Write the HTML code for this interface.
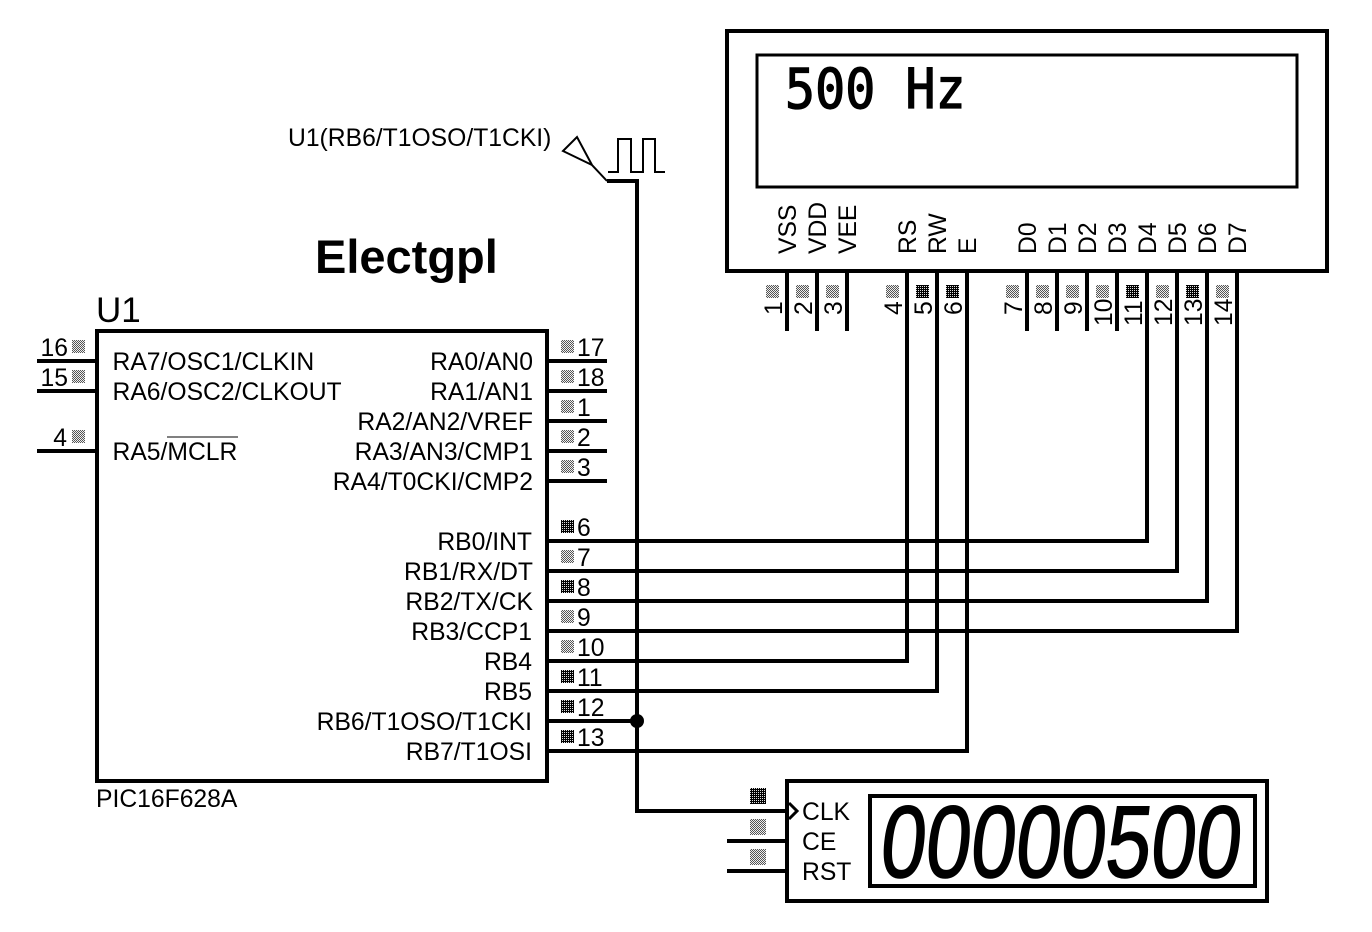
<!DOCTYPE html>
<html>
<head>
<meta charset="utf-8">
<title>Electgpl PIC16F628A frequency counter</title>
<style>
html,body{margin:0;padding:0;background:#fff;width:1372px;height:932px;overflow:hidden}
svg{display:block}
text{font-family:"Liberation Sans",sans-serif;font-size:24.7px;fill:#000}
.r{text-anchor:end}
</style>
</head>
<body>
<svg width="1372" height="932" viewBox="0 0 1372 932" xmlns="http://www.w3.org/2000/svg">
<defs>
<pattern id="lt" width="2" height="2" patternUnits="userSpaceOnUse" shape-rendering="crispEdges">
<rect width="2" height="2" fill="#eee"/><rect width="1" height="1" fill="#555"/><rect x="1" y="1" width="1" height="1" fill="#555"/>
</pattern>
<pattern id="dk" width="2" height="2" patternUnits="userSpaceOnUse" shape-rendering="crispEdges">
<rect width="2" height="2" fill="#000"/><rect width="1" height="1" fill="#ddd"/>
</pattern>
</defs>

<g fill="none" stroke="#000" stroke-width="4" shape-rendering="crispEdges">
<rect x="97" y="331" width="450" height="450"/>
<rect x="727" y="31" width="600" height="240"/>
<rect x="757" y="55" width="540" height="132" stroke-width="3"/>
<rect x="787" y="781" width="480" height="120"/>
<rect x="870" y="796" width="385" height="90"/>
<path d="M37 361H97M37 391H97M37 451H97"/>
<path d="M547 361H607M547 391H607M547 421H607M547 451H607M547 481H607"/>
<path d="M787 271V331M817 271V331M847 271V331M1027 271V331M1057 271V331M1087 271V331M1117 271V331"/>
<path d="M547 541H1147V271M547 571H1177V271M547 601H1207V271M547 631H1237V271"/>
<path d="M547 661H907V271M547 691H937V271M547 751H967V271"/>
<path d="M547 721H637M607 181H637V811H787M727 841H787M727 871H787"/>
</g>
<circle cx="637" cy="721" r="7" fill="#000"/>
<path d="M789 803L797 811L789 819" fill="#fff" stroke="#000" stroke-width="3"/>

<g fill="none" stroke="#000" stroke-width="2">
<path d="M607 181L592 165L577 137L563 151L592 165"/>
<path d="M608 172H618V139H631V172H643V139H655V172H665" shape-rendering="crispEdges"/>
<path d="M167 437H238" stroke-width="1" shape-rendering="crispEdges"/>
</g>

<g fill="url(#lt)" shape-rendering="crispEdges">
<rect x="72" y="340" width="13" height="13"/>
<rect x="72" y="370" width="13" height="13"/>
<rect x="72" y="430" width="13" height="13"/>
<rect x="561" y="340" width="13" height="13"/>
<rect x="561" y="370" width="13" height="13"/>
<rect x="561" y="400" width="13" height="13"/>
<rect x="561" y="430" width="13" height="13"/>
<rect x="561" y="460" width="13" height="13"/>
<rect x="561" y="550" width="13" height="13"/>
<rect x="561" y="610" width="13" height="13"/>
<rect x="561" y="640" width="13" height="13"/>
<rect x="766" y="285" width="13" height="13"/>
<rect x="796" y="285" width="13" height="13"/>
<rect x="826" y="285" width="13" height="13"/>
<rect x="886" y="285" width="13" height="13"/>
<rect x="1006" y="285" width="13" height="13"/>
<rect x="1036" y="285" width="13" height="13"/>
<rect x="1066" y="285" width="13" height="13"/>
<rect x="1096" y="285" width="13" height="13"/>
<rect x="1156" y="285" width="13" height="13"/>
<rect x="1216" y="285" width="13" height="13"/>
<rect x="750" y="819" width="16" height="16"/>
<rect x="750" y="849" width="16" height="16"/>
</g>
<g fill="url(#dk)" shape-rendering="crispEdges">
<rect x="561" y="520" width="13" height="13"/>
<rect x="561" y="580" width="13" height="13"/>
<rect x="561" y="670" width="13" height="13"/>
<rect x="561" y="700" width="13" height="13"/>
<rect x="561" y="730" width="13" height="13"/>
<rect x="916" y="285" width="13" height="13"/>
<rect x="946" y="285" width="13" height="13"/>
<rect x="1126" y="285" width="13" height="13"/>
<rect x="1186" y="285" width="13" height="13"/>
<rect x="750" y="788" width="16" height="16"/>
</g>

<text x="315" y="273" style="font-size:47px;font-weight:bold">Electgpl</text>
<text x="96" y="322" style="font-size:35px">U1</text>
<text x="288" y="146">U1(RB6/T1OSO/T1CKI)</text>
<text x="96" y="807">PIC16F628A</text>

<text x="112.5" y="370">RA7/OSC1/CLKIN</text>
<text x="112.5" y="400">RA6/OSC2/CLKOUT</text>
<text x="112.5" y="460">RA5/MCLR</text>

<text class="r" x="533" y="370">RA0/AN0</text>
<text class="r" x="533" y="400">RA1/AN1</text>
<text class="r" x="533" y="430">RA2/AN2/VREF</text>
<text class="r" x="533" y="460">RA3/AN3/CMP1</text>
<text class="r" x="533" y="490">RA4/T0CKI/CMP2</text>
<text class="r" x="532" y="550">RB0/INT</text>
<text class="r" x="533" y="580">RB1/RX/DT</text>
<text class="r" x="533" y="610">RB2/TX/CK</text>
<text class="r" x="532" y="640">RB3/CCP1</text>
<text class="r" x="532" y="670">RB4</text>
<text class="r" x="532" y="700">RB5</text>
<text class="r" x="532" y="730">RB6/T1OSO/T1CKI</text>
<text class="r" x="532" y="760">RB7/T1OSI</text>
<text class="r" x="68" y="356">16</text>
<text class="r" x="68" y="386">15</text>
<text class="r" x="67" y="446">4</text>

<text x="577" y="356">17</text>
<text x="577" y="386">18</text>
<text x="577" y="416">1</text>
<text x="577" y="446">2</text>
<text x="577" y="476">3</text>
<text x="577" y="536">6</text>
<text x="577" y="566">7</text>
<text x="577" y="596">8</text>
<text x="577" y="626">9</text>
<text x="577" y="656">10</text>
<text x="577" y="686">11</text>
<text x="577" y="716">12</text>
<text x="577" y="746">13</text>

<text transform="translate(796 254) rotate(-90)">VSS</text>
<text transform="translate(826 254) rotate(-90)">VDD</text>
<text transform="translate(856 254) rotate(-90)">VEE</text>
<text transform="translate(916 254) rotate(-90)">RS</text>
<text transform="translate(946 254) rotate(-90)">RW</text>
<text transform="translate(976 254) rotate(-90)">E</text>
<text transform="translate(1036 254) rotate(-90)">D0</text>
<text transform="translate(1066 254) rotate(-90)">D1</text>
<text transform="translate(1096 254) rotate(-90)">D2</text>
<text transform="translate(1126 254) rotate(-90)">D3</text>
<text transform="translate(1156 254) rotate(-90)">D4</text>
<text transform="translate(1186 254) rotate(-90)">D5</text>
<text transform="translate(1216 254) rotate(-90)">D6</text>
<text transform="translate(1246 254) rotate(-90)">D7</text>

<text transform="translate(782 315) rotate(-90)">1</text>
<text transform="translate(812 315) rotate(-90)">2</text>
<text transform="translate(842 315) rotate(-90)">3</text>
<text transform="translate(902 315) rotate(-90)">4</text>
<text transform="translate(932 315) rotate(-90)">5</text>
<text transform="translate(962 315) rotate(-90)">6</text>
<text transform="translate(1022 315) rotate(-90)">7</text>
<text transform="translate(1052 315) rotate(-90)">8</text>
<text transform="translate(1082 315) rotate(-90)">9</text>
<text transform="translate(1112 326) rotate(-90)">10</text>
<text transform="translate(1142 326) rotate(-90)">11</text>
<text transform="translate(1172 326) rotate(-90)">12</text>
<text transform="translate(1202 326) rotate(-90)">13</text>
<text transform="translate(1232 326) rotate(-90)">14</text>

<text x="802" y="820">CLK</text>
<text x="802" y="850">CE</text>
<text x="802" y="880">RST</text>

<text transform="translate(785 108) scale(1 1.1)" style="font-family:'DejaVu Sans Mono','Liberation Mono',monospace;font-size:50px;stroke:#000;stroke-width:1.2px" xml:space="preserve">500 Hz</text>

<text transform="translate(878 877) skewX(-6) scale(1 1.26)" style="font-size:81px;stroke:#000;stroke-width:1.2px">00000500</text>
</svg>
</body>
</html>
